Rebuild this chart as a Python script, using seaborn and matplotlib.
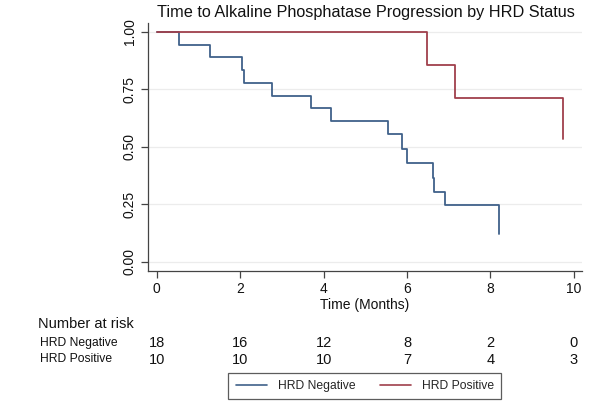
import matplotlib
matplotlib.use("Agg")
import matplotlib.pyplot as plt
import seaborn as sns
import pandas as pd
from matplotlib.lines import Line2D

sns.set_theme(style="white")
plt.rcParams['font.family'] = ['Liberation Sans', 'DejaVu Sans']

# Data
neg_time = [0, 0.53, 1.27, 2.05, 2.10, 2.77, 3.70, 4.17, 5.54, 5.88, 6.00, 6.63, 6.66, 6.91, 8.21]
neg_surv = [1.0, 0.944, 0.889, 0.833, 0.778, 0.722, 0.667, 0.611, 0.556, 0.49, 0.428, 0.365, 0.304, 0.247, 0.12]
pos_time = [0, 6.47, 7.15, 9.74]
pos_surv = [1.0, 0.857, 0.714, 0.536]
groups = ["HRD Negative", "HRD Positive"]
risk_times = [0, 2, 4, 6, 8, 10]
risk_neg = [18, 16, 12, 8, 2, 0]
risk_pos = [10, 10, 10, 7, 4, 3]
x_ticks = [0, 2, 4, 6, 8, 10]
y_ticks = [0.0, 0.25, 0.5, 0.75, 1.0]

colors = {"HRD Negative": "#40618a", "HRD Positive": "#a0404c"}

df = pd.concat([
    pd.DataFrame({"time": neg_time, "surv": neg_surv, "group": groups[0]}),
    pd.DataFrame({"time": pos_time, "surv": pos_surv, "group": groups[1]}),
])

W, H = 600, 403
fig = plt.figure(figsize=(6, 4.03), dpi=100)
ax = fig.add_axes([147.7 / W, 1 - 271 / H, (582 - 147.7) / W, (271 - 22.7) / H])

for g in groups:
    sub = df[df["group"] == g]
    sns.lineplot(data=sub, x="time", y="surv", ax=ax, color=colors[g],
                 drawstyle="steps-post", estimator=None, sort=False,
                 linewidth=1.3, legend=False)

ax.set_xlim(-0.22, 10.2)
ax.set_ylim(-0.04, 1.04)
ax.set_xticks(x_ticks)
ax.set_xticklabels([str(t) for t in x_ticks])
ax.set_yticks(y_ticks)
ax.set_yticklabels(["%.2f" % v for v in y_ticks], rotation=90, va="center")
for v in y_ticks:
    ax.axhline(v, color="#ececec", linewidth=0.9, zorder=0)
ax.grid(False)
ax.tick_params(axis="both", direction="out", length=5, width=0.9,
               color="#444444", labelsize=10, labelcolor="#111111", pad=3,
               left=True, bottom=True)
for s in ["top", "right"]:
    ax.spines[s].set_visible(False)
for s in ["left", "bottom"]:
    ax.spines[s].set_color("#444444")
    ax.spines[s].set_linewidth(0.9)
ax.set_xlabel("")
ax.set_ylabel("")

fig.text(366 / W, 1 - 12.5 / H, "Time to Alkaline Phosphatase Progression by HRD Status",
         ha="center", va="center", fontsize=11.7, color="#111111")
fig.text(365 / W, 1 - 305 / H, "Time (Months)", ha="center", va="center",
         fontsize=10, color="#111111")

# Number at risk table
fig.text(38 / W, 1 - 324.5 / H, "Number at risk", ha="left", va="center",
         fontsize=10.5, color="#111111")
fig.text(40 / W, 1 - 343 / H, groups[0], ha="left", va="center", fontsize=8.7, color="#111111")
fig.text(40 / W, 1 - 359.5 / H, groups[1], ha="left", va="center", fontsize=8.7, color="#111111")
tab = fig.add_axes([147.7 / W, 1 - 370 / H, (582 - 147.7) / W, 40 / H])
tab.set_xlim(-0.22, 10.2)
tab.set_ylim(370, 330)
tab.axis("off")
for t, a, b in zip(risk_times, risk_neg, risk_pos):
    tab.text(t, 343, str(a), ha="center", va="center", fontsize=10.5, color="#111111")
    tab.text(t, 359.5, str(b), ha="center", va="center", fontsize=10.5, color="#111111")

handles = [Line2D([0], [0], color=colors[g], lw=1.2) for g in groups]
leg = fig.legend(handles, groups, loc="center", bbox_to_anchor=(365 / W, 1 - 386 / H),
                 ncol=2, frameon=True, fancybox=False, fontsize=8.7,
                 handlelength=2.6, columnspacing=2.0, borderpad=0.6, handletextpad=0.9)
leg.get_frame().set_edgecolor("#333333")
leg.get_frame().set_linewidth(0.9)

fig.savefig("out.png", dpi=100)
